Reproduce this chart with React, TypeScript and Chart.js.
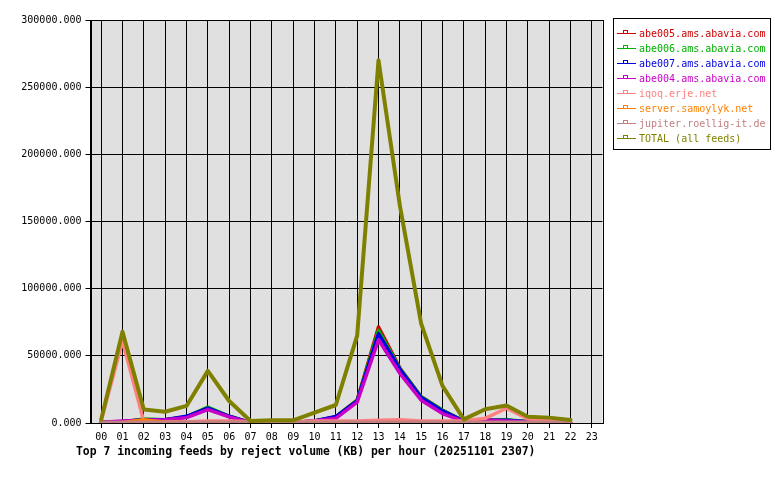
import React, { useEffect, useRef } from "react";
import { Chart, registerables } from "chart.js";

Chart.register(...registerables);

const HOURS = ["00","01","02","03","04","05","06","07","08","09","10","11","12","13","14","15","16","17","18","19","20","21","22","23"];

const FEED_NAMES = [
  "abe005.ams.abavia.com",
  "abe006.ams.abavia.com",
  "abe007.ams.abavia.com",
  "abe004.ams.abavia.com",
  "iqoq.erje.net",
  "server.samoylyk.net",
  "jupiter.roellig-it.de",
  "TOTAL (all feeds)",
];

const FEED_COLORS = ["#d00000", "#00b000", "#0000e0", "#c800c8", "#ff8080", "#ff8000", "#c08080", "#808000"];

const ABE005 = [500, 1000, 2500, 2500, 4500, 11300, 5000, 300, 300, 300, 1500, 4500, 17000, 71500, 41000, 19500, 9500, 1500, 2000, 2000, 1000, 500, 300, null];
const ABE006 = [500, 1000, 3000, 2500, 4500, 11800, 5000, 300, 300, 300, 1500, 4500, 17000, 69000, 40500, 19500, 9500, 1500, 2000, 2500, 1000, 500, 300, null];
const ABE007 = [500, 1000, 2500, 2500, 5000, 11000, 5000, 300, 300, 300, 1500, 4800, 16500, 66500, 40000, 19000, 9000, 1500, 2000, 2000, 1000, 500, 300, null];
const ABE004 = [500, 1500, 2000, 2500, 4000, 10000, 4500, 300, 300, 300, 1500, 3500, 15500, 62000, 37000, 17000, 7000, 1200, 2000, 1500, 800, 500, 300, null];
const IQOQ = [1500, 61000, 1000, 1000, 1000, 1500, 1500, 1000, 1000, 1000, 1500, 1500, 1500, 2000, 2500, 1500, 1500, 1500, 3500, 11000, 3000, 2000, 1000, null];
const SAMOYLYK = [0, 200, 2500, 500, 200, 200, 200, 100, 100, 100, 100, 100, 100, 100, 100, 100, 100, 100, 100, 100, 100, 100, 100, null];
const JUPITER = [500, 500, 500, 500, 500, 500, 500, 500, 500, 500, 500, 500, 500, 500, 500, 500, 500, 500, 500, 500, 500, 500, 500, null];
const TOTAL = [2500, 68000, 10000, 8400, 12700, 38800, 16400, 1500, 2000, 2000, 7700, 13400, 65000, 270000, 162000, 74000, 27600, 2700, 10200, 13000, 4700, 4000, 2200, null];

const SERIES = [ABE005, ABE006, ABE007, ABE004, IQOQ, SAMOYLYK, JUPITER, TOTAL];

const Y_MAX = 300000;
const Y_STEP = 50000;
const TITLE = "Top 7 incoming feeds by reject volume (KB) per hour (20251101 2307)";
const MONO = "'DejaVu Sans Mono', 'Liberation Mono', monospace";

export default function App() {
  const ref = useRef<HTMLCanvasElement | null>(null);

  useEffect(() => {
    const canvas = ref.current;
    if (!canvas) return;

    const framePlugin = {
      id: "frame",
      beforeDraw(chart: any) {
        const { ctx, chartArea: a } = chart;
        ctx.save();
        ctx.fillStyle = "#ffffff";
        ctx.fillRect(0, 0, chart.width, chart.height);
        ctx.fillStyle = "#e0e0e0";
        ctx.fillRect(a.left, a.top, a.right - a.left, a.bottom - a.top);
        ctx.restore();
      },
      beforeDatasetsDraw(chart: any) {
        const { ctx, chartArea: a } = chart;
        ctx.save();
        ctx.strokeStyle = "#000";
        ctx.lineWidth = 1;
        ctx.strokeRect(Math.round(a.left) + 0.5, Math.round(a.top) + 0.5, Math.round(a.right - a.left), Math.round(a.bottom - a.top));
        ctx.restore();
      },
      afterDraw(chart: any) {
        const { ctx } = chart;
        ctx.save();
        // title
        ctx.font = "bold 11.4px " + MONO;
        ctx.fillStyle = "#000";
        ctx.textBaseline = "middle";
        ctx.textAlign = "left";
        ctx.fillText(TITLE, 76, 452);
        // legend
        ctx.strokeStyle = "#000";
        ctx.lineWidth = 1;
        ctx.strokeRect(613.5, 18.5, 157, 131);
        ctx.font = "10px " + MONO;
        chart.data.datasets.forEach((ds: any, i: number) => {
          const y = 33 + i * 15;
          ctx.fillStyle = ds.borderColor;
          ctx.fillRect(617, y, 19, 1);
          ctx.strokeStyle = ds.borderColor;
          ctx.strokeRect(623.5, y - 2.5, 4, 3);
          ctx.fillText(ds.label, 639, y + 1);
        });
        ctx.restore();
      },
    };

    const chart = new Chart(canvas, {
      type: "line",
      data: {
        labels: HOURS,
        datasets: SERIES.map((s, i) => ({
          label: FEED_NAMES[i],
          data: s,
          borderColor: FEED_COLORS[i],
          backgroundColor: FEED_COLORS[i],
          borderWidth: i === 7 ? 4 : 3.5,
          borderJoinStyle: "round" as const,
          borderCapStyle: "round" as const,
          pointRadius: 0,
          tension: 0,
          fill: false,
          spanGaps: false,
          order: 7 - i,
        })),
      },
      options: {
        animation: false,
        responsive: false,
        devicePixelRatio: 1,
        layout: { padding: { top: 20, left: 0, right: 177.5, bottom: 0 } },
        plugins: {
          legend: { display: false },
          tooltip: { enabled: false },
          title: { display: false },
        },
        scales: {
          x: {
            type: "category",
            offset: true,
            grid: { color: "#000", lineWidth: 1, offset: false, drawTicks: true, tickLength: 5, tickColor: "#000" },
            border: { display: true, color: "#000" },
            ticks: { color: "#000", font: { family: MONO, size: 10 }, padding: 3, maxRotation: 0, autoSkip: false },
            afterFit(scale: any) { scale.height = 57; },
          },
          y: {
            min: 0,
            max: Y_MAX,
            grid: { color: "#000", lineWidth: 1, drawTicks: true, tickLength: 5, tickColor: "#000" },
            border: { display: true, color: "#000" },
            ticks: {
              stepSize: Y_STEP,
              color: "#000",
              font: { family: MONO, size: 10 },
              padding: 4,
              callback: (v: any) => Number(v).toFixed(3),
            },
            afterFit(scale: any) { scale.width = 90.5; },
          },
        },
      },
      plugins: [framePlugin],
    });

    return () => chart.destroy();
  }, []);

  return (
    <canvas
      ref={ref}
      width={780}
      height={480}
      style={{ position: "fixed", left: 0, top: 0, width: 780, height: 480 }}
    />
  );
}
